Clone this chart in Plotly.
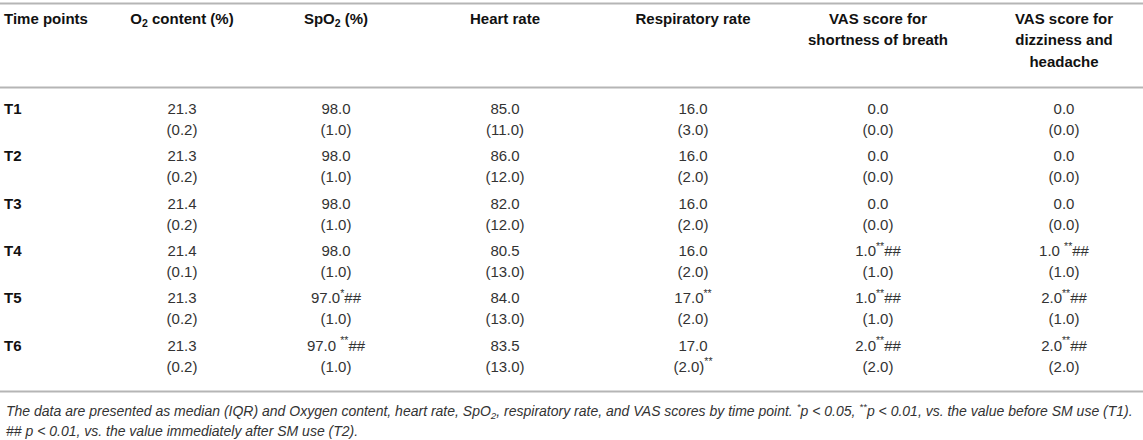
import plotly.graph_objects as go

W, H = 1143, 440

# ---------------- data ----------------
time_points = ["T1", "T2", "T3", "T4", "T5", "T6"]
header_lines = [
    ["Time points"],
    ["O<sub>2</sub> content (%)"],
    ["SpO<sub>2</sub> (%)"],
    ["Heart rate"],
    ["Respiratory rate"],
    ["VAS score for", "shortness of breath"],
    ["VAS score for", "dizziness and", "headache"],
]

o2_median = [21.3, 21.3, 21.4, 21.4, 21.3, 21.3]
o2_iqr = [0.2, 0.2, 0.2, 0.1, 0.2, 0.2]

spo2_median = [98.0, 98.0, 98.0, 98.0, 97.0, 97.0]
spo2_iqr = [1.0, 1.0, 1.0, 1.0, 1.0, 1.0]
spo2_mark = ["", "", "", "", "<sup>*</sup>##", " <sup>**</sup>##"]

hr_median = [85.0, 86.0, 82.0, 80.5, 84.0, 83.5]
hr_iqr = [11.0, 12.0, 12.0, 13.0, 13.0, 13.0]

rr_median = [16.0, 16.0, 16.0, 16.0, 17.0, 17.0]
rr_iqr = [3.0, 2.0, 2.0, 2.0, 2.0, 2.0]
rr_mark = ["", "", "", "", "<sup>**</sup>", ""]
rr_iqr_mark = ["", "", "", "", "", "<sup>**</sup>"]

vas_sob_median = [0.0, 0.0, 0.0, 1.0, 1.0, 2.0]
vas_sob_iqr = [0.0, 0.0, 0.0, 1.0, 1.0, 2.0]
vas_sob_mark = ["", "", "", "<sup>**</sup>##", "<sup>**</sup>##", "<sup>**</sup>##"]

vas_dh_median = [0.0, 0.0, 0.0, 1.0, 2.0, 2.0]
vas_dh_iqr = [0.0, 0.0, 0.0, 1.0, 1.0, 2.0]
vas_dh_mark = ["", "", "", " <sup>**</sup>##", "<sup>**</sup>##", "<sup>**</sup>##"]

footnotes = [
    "The data are presented as median (IQR) and Oxygen content, heart rate, SpO<sub>2</sub>, "
    "respiratory rate, and VAS scores by time point. <sup>*</sup>p &lt; 0.05, "
    "<sup>**</sup>p &lt; 0.01, vs. the value before SM use (T1).",
    "## p &lt; 0.01, vs. the value immediately after SM use (T2).",
]

columns = [
    (o2_median, o2_iqr, None, None),
    (spo2_median, spo2_iqr, spo2_mark, None),
    (hr_median, hr_iqr, None, None),
    (rr_median, rr_iqr, rr_mark, rr_iqr_mark),
    (vas_sob_median, vas_sob_iqr, vas_sob_mark, None),
    (vas_dh_median, vas_dh_iqr, vas_dh_mark, None),
]

# ---------------- layout constants (pixel-like axis units) ----------------
FONT = "Liberation Sans, Arial, Helvetica, sans-serif"
FS = 15
LEFT_X = 4
COL_X = [182, 336, 505, 693, 878, 1064]
HEAD_Y0, HEAD_STEP = 20, 21.5
BODY_Y0, ROW_PITCH, IQR_STEP = 110, 47.4, 21
RULES_Y = [3.5, 87.5, 391.5]
FOOT_Y = [410.5, 431]

fig = go.Figure()

def text_trace(x, y, text, color, pos="middle center", size=FS):
    fig.add_trace(go.Scatter(x=x, y=y, text=text, mode="text", textposition=pos,
                             textfont=dict(family=FONT, size=size, color=color),
                             hoverinfo="skip", showlegend=False, cliponaxis=False))

# header
for c, lines in enumerate(header_lines):
    ys = [HEAD_Y0 + k * HEAD_STEP for k in range(len(lines))]
    txt = [f"<b>{l}</b>" for l in lines]
    if c == 0:
        text_trace([LEFT_X] * len(lines), ys, txt, "#111111", pos="middle right")
    else:
        text_trace([COL_X[c - 1]] * len(lines), ys, txt, "#111111")

# row labels
row_y = [BODY_Y0 + i * ROW_PITCH for i in range(len(time_points))]
text_trace([LEFT_X] * len(time_points), row_y, [f"<b>{t}</b>" for t in time_points],
           "#111111", pos="middle right")

# body cells
for c, (med, iqr, mark, imark) in enumerate(columns):
    n = len(med)
    med_txt = [f"{med[i]:.1f}{mark[i] if mark else ''}" for i in range(n)]
    iqr_txt = [f"({iqr[i]:.1f}){imark[i] if imark else ''}" for i in range(n)]
    text_trace([COL_X[c]] * n, row_y, med_txt, "#333333")
    text_trace([COL_X[c]] * n, [y + IQR_STEP for y in row_y], iqr_txt, "#333333")

# rules
for y in RULES_Y:
    fig.add_shape(type="line", xref="paper", yref="y", x0=0, x1=1, y0=y, y1=y,
                  line=dict(color="#b5b5b5", width=2))

# footnotes
for txt, y in zip(footnotes, FOOT_Y):
    fig.add_annotation(text=f"<i>{txt}</i>", xref="x", yref="y", x=LEFT_X, y=y,
                       xanchor="left", yanchor="middle", showarrow=False, align="left",
                       font=dict(family=FONT, size=14, color="#333333"))

fig.update_xaxes(range=[0, W], visible=False, fixedrange=True)
fig.update_yaxes(range=[H, 0], visible=False, fixedrange=True)
fig.update_layout(width=W, height=H, margin=dict(l=0, r=0, t=0, b=0),
                  paper_bgcolor="white", plot_bgcolor="white")
fig.write_html("out.html", config={"displayModeBar": False},
               post_script="document.body.style.margin='0';document.body.style.overflow='hidden';")
